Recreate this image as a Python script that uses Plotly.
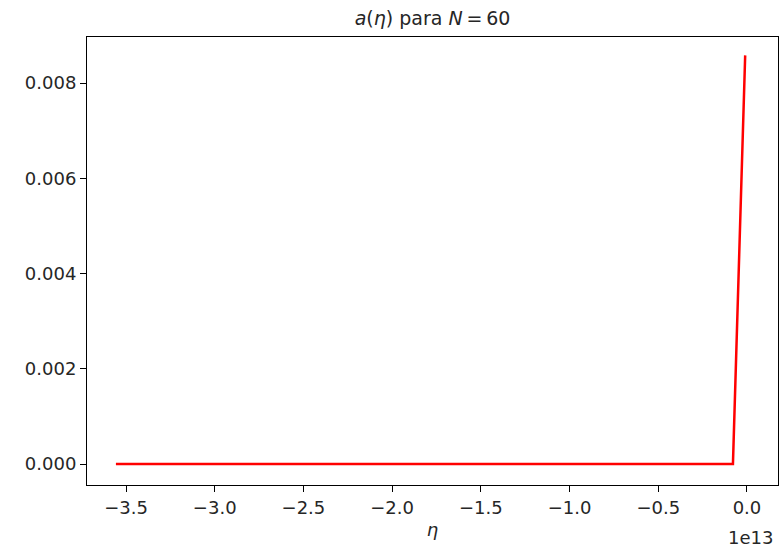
import plotly.graph_objects as go

# data (eta in conformal time, a = scale factor)
eta = [-3.557e13, -0.079e13, -0.010e13]
a_vals = [0.0, 0.0, 0.00858]
x_ticks = [-3.5, -3.0, -2.5, -2.0, -1.5, -1.0, -0.5, 0.0]
y_ticks = [0.000, 0.002, 0.004, 0.006, 0.008]
scale = 1e13

FONT = "DejaVu Sans"
fig = go.Figure()
fig.add_trace(go.Scatter(
    x=[e / scale for e in eta], y=a_vals, mode="lines",
    line=dict(color="red", width=2.5), showlegend=False))

axis_common = dict(showline=True, linecolor="black", linewidth=1, mirror=True,
                   ticks="outside", ticklen=6, tickcolor="black", tickwidth=1,
                   showgrid=False, zeroline=False, automargin=False,
                   tickfont=dict(family=FONT, size=18, color="#262626"))
fig.update_xaxes(range=[-3.72, 0.175], tickvals=x_ticks,
                 ticktext=[f"{v:.1f}".replace("-", "\u2212") for v in x_ticks],
                 title=dict(text="<i>η</i>", font=dict(family=FONT, size=18, color="#262626"), standoff=6),
                 **axis_common)
fig.update_yaxes(range=[-0.00044, 0.008966], tickvals=y_ticks,
                 ticktext=[f"{v:.3f}" for v in y_ticks], **axis_common)

fig.add_annotation(x=1, y=0, xref="paper", yref="paper", xanchor="right", yanchor="top",
                   xshift=-3, yshift=-40, text="1e13", showarrow=False,
                   font=dict(family=FONT, size=18, color="#262626"))

W, H = 779, 557
fig.update_layout(
    width=W, height=H,
    margin=dict(l=87, r=1, t=37, b=H - 485, autoexpand=False),
    paper_bgcolor="white", plot_bgcolor="white",
    title=dict(text="<i>a</i>(<i>η</i>) para <i>N</i>\u2009=\u200960", x=0.5, xref="paper", xanchor="center",
               y=1 - 18 / H, yanchor="middle",
               font=dict(family=FONT, size=19, color="#262626")),
)
fig.write_html("out.html", config={"displayModeBar": False},
               post_script="document.body.style.margin='0';document.body.style.overflow='hidden';")
